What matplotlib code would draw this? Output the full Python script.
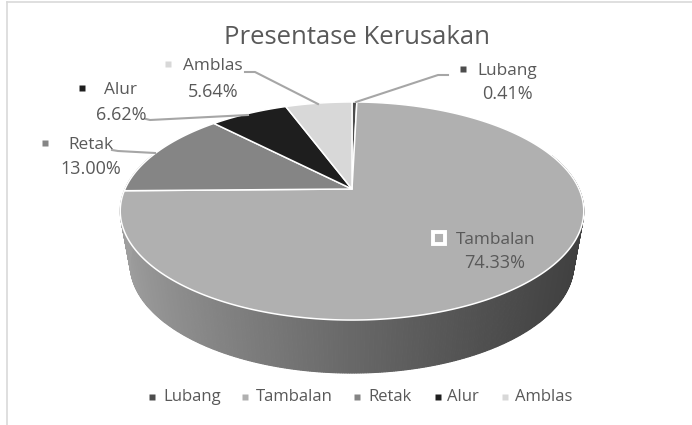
import numpy as np
import matplotlib
matplotlib.use("Agg")
import matplotlib.pyplot as plt

names = ["Lubang", "Tambalan", "Retak", "Alur", "Amblas"]
values = [0.41, 74.33, 13.00, 6.62, 5.64]
colors = ["#4d4d4d", "#b0b0b0", "#858585", "#1e1e1e", "#d8d8d8"]

plt.rcParams["font.family"] = ["Open Sans", "DejaVu Sans"]
text_color = "#595959"
line_color = "#a6a6a6"

# pie centre and perspective of the tilted disc, in pixels
cx, cy = 352, 189
rx, ry = 227, 104.6
k = 0.2018
depth = 53


def project(theta):
    # theta in degrees clockwise from the top of the pie
    t = np.radians(theta)
    x, y = np.sin(t), np.cos(t)
    w = 1 + k * y
    return cx + rx * x / w, cy - ry * y / w


fig = plt.figure(figsize=(6.92, 4.25), dpi=100)
ax = fig.add_axes([0, 0, 1, 1])
ax.set_xlim(0, 692)
ax.set_ylim(425, 0)
ax.axis("off")

# chart border
ax.plot([7, 7], [2, 425], color="#d9d9d9", lw=1.2)
ax.plot([7, 692], [2, 2], color="#d9d9d9", lw=1.2)

# side wall, thin slices with a grey gradient from left to right
angles = np.linspace(70, 290, 441)
for a0, a1 in zip(angles[:-1], angles[1:]):
    x0, y0 = project(a0)
    x1, y1 = project(a1)
    bx0 = cx + 0.957 * (x0 - cx)
    bx1 = cx + 0.957 * (x1 - cx)
    frac = (x0 - 121) / (584 - 121)
    grey = 0.62 - 0.37 * np.clip(frac, 0, 1) ** 0.8
    ax.fill([x0, x1, bx1, bx0], [y0, y1, y1 + depth, y0 + depth],
            color=(grey, grey, grey), lw=0.8)

# top face
start = 0
for value, color in zip(values, colors):
    sweep = value / sum(values) * 360
    th = np.linspace(start, start + sweep, max(int(sweep * 2), 3))
    px, py = project(th)
    ax.fill(np.r_[cx, px], np.r_[cy, py], facecolor=color,
            edgecolor="white", lw=1.1, joinstyle="round")
    start += sweep

# leader lines
leaders = [
    ([448, 438, 356], [75, 75, 102]),
    ([245, 255, 318], [72, 72, 104]),
    ([146, 150, 248], [119, 120, 115]),
    ([112, 118, 155], [150, 151, 153]),
]
for lx, ly in leaders:
    ax.plot(lx, ly, color=line_color, lw=1.5)

ax.text(357, 37, "Presentase Kerusakan", ha="center", va="center",
        fontsize=18.5, color=text_color)

# data labels: marker, name, percentage
label_pos = {
    "Lubang": (507, 71, 463, 507, 94),
    "Tambalan": (496, 240, 439, 495, 263),
    "Retak": (91, 145, 45, 91, 169),
    "Alur": (121, 90, 82, 121, 115),
    "Amblas": (213, 66, 168, 213, 92),
}
for name, value, color in zip(names, values, colors):
    nx, ny, mx, px, py = label_pos[name]
    ax.text(nx, ny, name, ha="center", va="center", fontsize=12.4,
            color=text_color)
    ax.text(px, py, f"{value:.2f}%", ha="center", va="center", fontsize=13,
            color=text_color)
    if name == "Tambalan":
        ax.plot([mx], [ny - 2], "s", ms=8, mfc=color, mec="white", mew=2.8)
    else:
        ax.plot([mx], [ny - 2], "s", ms=5, mfc=color, mec="none")

# legend
legend_marker_x = [152, 245, 357, 438, 505]
legend_text_x = [163, 256, 368, 447, 515]
for name, color, mx, tx in zip(names, colors, legend_marker_x, legend_text_x):
    ax.plot([mx], [397], "s", ms=4.2, mfc=color, mec="none")
    ax.text(tx, 397, name, ha="left", va="center", fontsize=12,
            color=text_color)

fig.savefig("out.png", dpi=100)
